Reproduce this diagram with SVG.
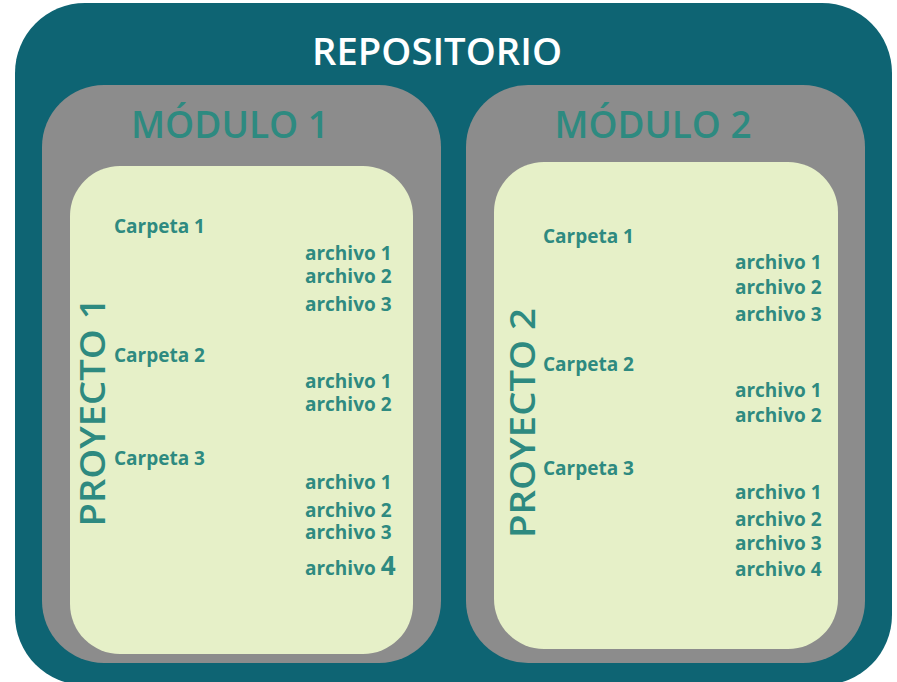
<svg xmlns="http://www.w3.org/2000/svg" width="897" height="682" viewBox="0 0 897 682">
<style>
.t{font-family:"Open Sans","Liberation Sans",sans-serif;font-weight:700;fill:#2e8a80}
.title{font-family:"Open Sans","Liberation Sans",sans-serif;font-weight:600;fill:#ffffff;font-size:37px}
.mod{font-size:37px;font-weight:600}
.c{font-size:19px}
.a{font-size:19px}
.p{font-size:35px;font-weight:600}
</style>
<rect width="897" height="682" fill="#ffffff"/>
<g id="repositorio">
<rect x="15" y="3" width="877" height="682" rx="70" ry="70" fill="#0e6473"/>
<text class="title" x="437" y="65" text-anchor="middle" textLength="250" lengthAdjust="spacingAndGlyphs">REPOSITORIO</text>
</g>
<g id="modulo1">
<rect x="42" y="85" width="399" height="578" rx="62" ry="62" fill="#8c8c8c"/>
<text class="t mod" x="230" y="138" text-anchor="middle" textLength="198" lengthAdjust="spacingAndGlyphs">MÓDULO 1</text>
</g>
<g id="modulo2">
<rect x="466" y="85" width="399" height="578" rx="62" ry="62" fill="#8c8c8c"/>
<text class="t mod" x="653" y="138" text-anchor="middle" textLength="197" lengthAdjust="spacingAndGlyphs">MÓDULO 2</text>
</g>
<g id="proyecto1">
<rect x="70" y="166" width="343" height="488" rx="50" ry="50" fill="#e6f0c8"/>
<text class="t p" transform="translate(105,412) rotate(-90)" text-anchor="middle" textLength="229" lengthAdjust="spacingAndGlyphs">PROYECTO 1</text>
<text class="t c" x="114" y="233">Carpeta 1</text>
<text class="t a" x="305" y="260">archivo 1</text>
<text class="t a" x="305" y="283">archivo 2</text>
<text class="t a" x="305" y="311">archivo 3</text>
<text class="t c" x="114" y="362">Carpeta 2</text>
<text class="t a" x="305" y="388">archivo 1</text>
<text class="t a" x="305" y="411">archivo 2</text>
<text class="t c" x="114" y="465">Carpeta 3</text>
<text class="t a" x="305" y="489">archivo 1</text>
<text class="t a" x="305" y="517">archivo 2</text>
<text class="t a" x="305" y="539">archivo 3</text>
<text class="t a" x="305" y="575">archivo <tspan font-size="26px">4</tspan></text>
</g>
<g id="proyecto2">
<rect x="494" y="162" width="344" height="487" rx="50" ry="50" fill="#e6f0c8"/>
<text class="t p" transform="translate(535,423) rotate(-90)" text-anchor="middle" textLength="230" lengthAdjust="spacingAndGlyphs">PROYECTO 2</text>
<text class="t c" x="543" y="243">Carpeta 1</text>
<text class="t a" x="735" y="269">archivo 1</text>
<text class="t a" x="735" y="294">archivo 2</text>
<text class="t a" x="735" y="321">archivo 3</text>
<text class="t c" x="543" y="371">Carpeta 2</text>
<text class="t a" x="735" y="397">archivo 1</text>
<text class="t a" x="735" y="422">archivo 2</text>
<text class="t c" x="543" y="475">Carpeta 3</text>
<text class="t a" x="735" y="499">archivo 1</text>
<text class="t a" x="735" y="526">archivo 2</text>
<text class="t a" x="735" y="550">archivo 3</text>
<text class="t a" x="735" y="576">archivo 4</text>
</g>
<g id="connectors"></g>
</svg>
